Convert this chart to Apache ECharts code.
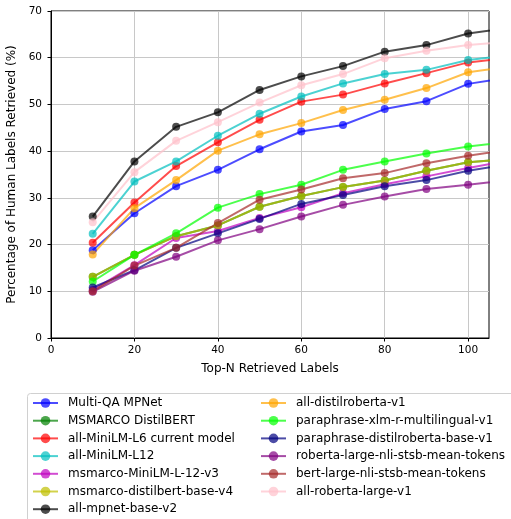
<!DOCTYPE html>
<html>
<head>
<meta charset="utf-8">
<script src="https://cdn.jsdelivr.net/npm/echarts@6/dist/echarts.min.js"></script>
<style>
html, body { margin: 0; padding: 0; background: #fff; }
#chart-area { width: 511px; height: 519px; }
</style>
</head>
<body>
<div id="chart-area"></div>
<script>
// Top-N retrieved labels (last point lies past the axis limit and is clipped)
var topN = [10, 20, 30, 40, 50, 60, 70, 80, 90, 100, 110];
var xTicks = [0, 20, 40, 60, 80, 100];

var multiQaMpnet      = [18.8, 26.7, 32.5, 36.0, 40.4, 44.2, 45.6, 49.0, 50.7, 54.4, 55.8];
var msmarcoDistilbert = [13.1, 17.8, 21.8, 24.1, 28.1, 30.4, 32.3, 33.7, 35.8, 37.6, 38.4];
var miniLmL6          = [20.4, 29.0, 36.8, 41.9, 46.7, 50.6, 52.1, 54.5, 56.7, 59.0, 60.0];
var miniLmL12         = [22.3, 33.5, 37.8, 43.3, 48.0, 51.7, 54.5, 56.5, 57.4, 59.5, 60.5];
var msmarcoMiniLm     = [10.3, 15.6, 21.4, 22.9, 25.7, 28.0, 31.0, 32.9, 34.6, 36.4, 38.0];
var msmarcoDistilV4   = [13.1, 17.8, 21.8, 24.1, 28.1, 30.4, 32.3, 33.7, 35.8, 37.6, 38.4];
var mpnetBaseV2       = [26.0, 37.8, 45.2, 48.3, 53.1, 56.0, 58.2, 61.3, 62.7, 65.2, 66.4];
var distilRobertaV1   = [17.9, 27.8, 33.8, 40.1, 43.6, 46.0, 48.8, 51.0, 53.5, 56.9, 58.1];
var xlmMultilingual   = [12.1, 17.8, 22.4, 27.9, 30.8, 32.8, 36.0, 37.8, 39.5, 41.0, 42.0];
var paraDistilRoberta = [10.8, 14.5, 19.3, 22.4, 25.5, 28.7, 30.6, 32.5, 33.8, 35.8, 37.2];
var robertaLargeNli   = [9.9, 14.4, 17.4, 20.9, 23.3, 26.0, 28.5, 30.3, 31.9, 32.8, 33.8];
var bertLargeNli      = [10.0, 15.5, 19.3, 24.6, 29.6, 31.8, 34.2, 35.3, 37.4, 39.0, 40.4];
var robertaLargeV1    = [24.8, 35.5, 42.2, 46.2, 50.4, 54.1, 56.5, 59.9, 61.5, 62.7, 63.5];

var models = [
	{name: 'Multi-QA MPNet', color: '#0000ff', values: multiQaMpnet},
	{name: 'MSMARCO DistilBERT', color: '#008000', values: msmarcoDistilbert},
	{name: 'all-MiniLM-L6 current model', color: '#ff0000', values: miniLmL6},
	{name: 'all-MiniLM-L12', color: '#00bfbf', values: miniLmL12},
	{name: 'msmarco-MiniLM-L-12-v3', color: '#bf00bf', values: msmarcoMiniLm},
	{name: 'msmarco-distilbert-base-v4', color: '#bfbf00', values: msmarcoDistilV4},
	{name: 'all-mpnet-base-v2', color: '#000000', values: mpnetBaseV2},
	{name: 'all-distilroberta-v1', color: '#ffa500', values: distilRobertaV1},
	{name: 'paraphrase-xlm-r-multilingual-v1', color: '#00ff00', values: xlmMultilingual},
	{name: 'paraphrase-distilroberta-base-v1', color: '#000080', values: paraDistilRoberta},
	{name: 'roberta-large-nli-stsb-mean-tokens', color: '#800080', values: robertaLargeNli},
	{name: 'bert-large-nli-stsb-mean-tokens', color: '#a52a2a', values: bertLargeNli},
	{name: 'all-roberta-large-v1', color: '#ffc0cb', values: robertaLargeV1}
];

var font = 'DejaVu Sans';

var series = models.map(function (m) {
	return {
		name: m.name,
		type: 'line',
		clip: true,
		symbol: 'circle',
		symbolSize: 8,
		color: m.color,
		lineStyle: {width: 2, opacity: 0.7},
		itemStyle: {opacity: 0.7},
		emphasis: {disabled: true},
		data: m.values.map(function (v, i) { return [topN[i], v]; })
	};
});

function legendBlock(names, left) {
	return {
		orient: 'vertical',
		left: left,
		top: 397,
		padding: 0,
		itemWidth: 25,
		itemHeight: 12,
		itemGap: 5.7,
		selectedMode: false,
		textStyle: {fontFamily: font, fontSize: 12, color: '#000', padding: [0, 0, 0, 5]},
		data: names
	};
}

var names = models.map(function (m) { return m.name; });

var myChart = echarts.init(document.getElementById('chart-area'));
var option = {
	animation: false,
	backgroundColor: '#fff',
	grid: {
		left: 51, top: 11, width: 438, height: 327,
		show: true, borderColor: '#000', borderWidth: 1,
		outerBoundsMode: 'none'
	},
	xAxis: {
		type: 'value', min: 0, max: 105, interval: 20,
		name: 'Top-N Retrieved Labels',
		nameLocation: 'middle', nameGap: 25,
		nameTextStyle: {fontFamily: font, fontSize: 12, color: '#000'},
		axisLine: {show: true, lineStyle: {color: '#000', width: 1}},
		axisTick: {show: true, length: 3.5, lineStyle: {color: '#000'}, customValues: xTicks},
		axisLabel: {fontFamily: font, fontSize: 10.5, color: '#000', margin: 7, customValues: xTicks},
		splitLine: {show: true, lineStyle: {color: '#c8c8c8', width: 1}}
	},
	yAxis: {
		type: 'value', min: 0, max: 70, interval: 10,
		name: 'Percentage of Human Labels Retrieved (%)',
		nameLocation: 'middle', nameGap: 25,
		nameTextStyle: {fontFamily: font, fontSize: 12, color: '#000'},
		axisLine: {show: true, lineStyle: {color: '#000', width: 1}},
		axisTick: {show: true, length: 3.5, lineStyle: {color: '#000'}},
		axisLabel: {fontFamily: font, fontSize: 10.5, color: '#000', margin: 9},
		splitLine: {show: true, lineStyle: {color: '#c8c8c8', width: 1}}
	},
	legend: [
		legendBlock(names.slice(0, 7), 32),
		legendBlock(names.slice(7), 260)
	],
	graphic: [{
		type: 'rect', left: 27, top: 393, z: -1,
		shape: {width: 520, height: 140, r: 3},
		style: {fill: '#fff', stroke: '#d0d0d0', lineWidth: 1}
	}],
	series: series
};
myChart.setOption(option);
</script>
</body>
</html>
